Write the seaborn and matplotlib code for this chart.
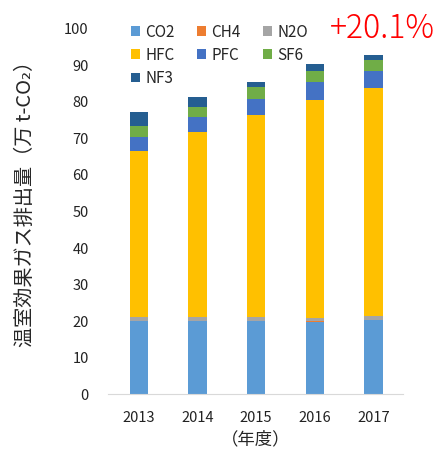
import numpy as np
import pandas as pd
import seaborn as sns
import matplotlib.pyplot as plt

years = ["2013", "2014", "2015", "2016", "2017"]
gases = ["CO2", "CH4", "N2O", "HFC", "PFC", "SF6", "NF3"]
co2 = [20.0, 20.0, 20.0, 19.8, 20.3]
ch4 = [0.1, 0.1, 0.1, 0.1, 0.1]
n2o = [1.0, 1.0, 1.0, 1.0, 1.0]
hfc = [45.5, 50.6, 55.3, 59.5, 62.4]
pfc = [3.8, 4.1, 4.4, 5.0, 4.6]
sf6 = [3.1, 2.8, 3.2, 3.1, 3.1]
nf3 = [3.7, 2.7, 1.5, 1.8, 1.2]
colors = ["#5B9BD5", "#ED7D31", "#A5A5A5", "#FFC000", "#4472C4", "#70AD47", "#255E91"]

df = pd.DataFrame({"year": years, "CO2": co2, "CH4": ch4, "N2O": n2o,
                   "HFC": hfc, "PFC": pfc, "SF6": sf6, "NF3": nf3})

sns.set_style("white")
plt.rcParams['font.family'] = ['Noto Sans CJK JP', 'DejaVu Sans']

fig, ax = plt.subplots(figsize=(4.38, 4.5), dpi=100)
fig.subplots_adjust(left=0.247, right=0.92, top=0.936, bottom=0.124)

bottom = np.zeros(len(years))
for g, c in zip(gases, colors):
    sns.barplot(data=df, x="year", y=g, bottom=bottom, color=c, width=0.31,
                label=g, ax=ax, saturation=1, linewidth=0)
    bottom = bottom + df[g].values

ax.set_ylim(0, 100)
ax.set_xlim(-0.52, 4.5)
ax.set_yticks(range(0, 101, 10))
ax.tick_params(axis="both", length=0, labelsize=10.5, colors="#222222")
ax.tick_params(axis="y", pad=14)
ax.tick_params(axis="x", pad=12)
for s in ["top", "right", "left"]:
    ax.spines[s].set_visible(False)
ax.spines["bottom"].set_color("#D9D9D9")
ax.set_ylabel("温室効果ガス排出量（万 t-CO₂）", fontsize=14.5)
ax.yaxis.set_label_coords(-0.245, 0.534)
ax.set_xlabel("（年度）", fontsize=12.5)
ax.xaxis.set_label_coords(0.5, -0.1)

h, l = ax.get_legend_handles_labels()
order = [0, 3, 6, 1, 4, 2, 5]
ax.legend([h[i] for i in order], [l[i] for i in order], ncol=3, frameon=False,
          loc="upper left", bbox_to_anchor=(0.03, 1.052), fontsize=11,
          handlelength=0.6, handleheight=0.6, handletextpad=0.35,
          columnspacing=1.45, labelspacing=0.4)

fig.text(0.993, 0.975, "+20.1%", color="#FF0000", fontsize=23, ha="right", va="top",
         fontweight="light")

fig.savefig("out.png", dpi=100)
